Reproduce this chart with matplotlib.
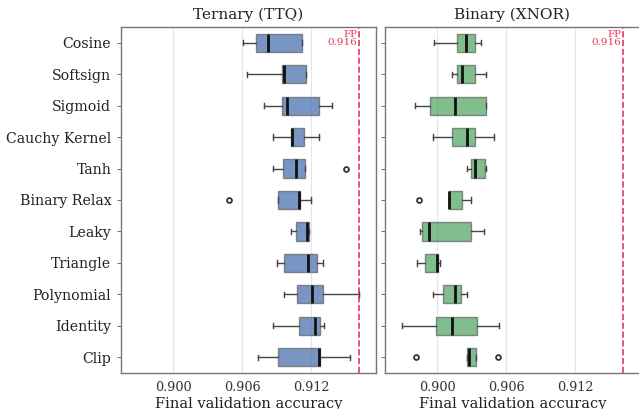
import matplotlib
matplotlib.use("Agg")
import matplotlib.pyplot as plt

plt.rcParams['font.family'] = ['DejaVu Serif']

categories = ["Cosine", "Softsign", "Sigmoid", "Cauchy Kernel", "Tanh", "Binary Relax",
              "Leaky", "Triangle", "Polynomial", "Identity", "Clip"]
fp_acc = 0.9162

# Ternary (TTQ) box stats
ttq_whislo = [0.90609, 0.90646, 0.90791, 0.90872, 0.90867, 0.9091, 0.91023, 0.90904, 0.90968, 0.90867, 0.90736]
ttq_q1 = [0.90724, 0.90945, 0.90945, 0.91026, 0.90954, 0.9091, 0.91067, 0.90968, 0.91081, 0.91096, 0.9091]
ttq_med = [0.90829, 0.90968, 0.90994, 0.91038, 0.91067, 0.91093, 0.91168, 0.91177, 0.91209, 0.91235, 0.9127]
ttq_q3 = [0.91122, 0.91159, 0.91272, 0.91142, 0.9115, 0.91104, 0.91183, 0.91252, 0.91304, 0.91278, 0.91278]
ttq_whishi = [0.91122, 0.91159, 0.91385, 0.91272, 0.9115, 0.912, 0.91183, 0.91304, 0.91617, 0.91313, 0.91536]
ttq_fliers = [[], [], [], [], [0.91504], [0.90484], [], [], [], [], []]

# Binary (XNOR) box stats
xnor_whislo = [0.89977, 0.9013, 0.89809, 0.89963, 0.90258, 0.90101, 0.89855, 0.89826, 0.89968, 0.89696, 0.90258]
xnor_q1 = [0.90177, 0.90177, 0.89937, 0.9013, 0.90299, 0.90101, 0.89867, 0.89896, 0.9005, 0.89988, 0.90258]
xnor_med = [0.90255, 0.90214, 0.90159, 0.90264, 0.90328, 0.90101, 0.89933, 0.900, 0.90159, 0.90128, 0.90275]
xnor_q3 = [0.90333, 0.90333, 0.90426, 0.90333, 0.9042, 0.9022, 0.90293, 0.90012, 0.90206, 0.90348, 0.90342]
xnor_whishi = [0.90386, 0.90426, 0.90426, 0.90499, 0.90429, 0.90299, 0.90412, 0.90026, 0.90258, 0.90542, 0.90342]
xnor_fliers = [[], [], [], [], [], [0.89843], [], [], [], [], [0.89817, 0.9053]]

ticks = [0.900, 0.906, 0.912]


def make_stats(whislo, q1, med, q3, whishi, fliers):
    return [dict(whislo=a, q1=b, med=c, q3=d, whishi=e, fliers=f)
            for a, b, c, d, e, f in zip(whislo, q1, med, q3, whishi, fliers)]


def draw_panel(ax, stats, color, title, show_labels):
    pos = list(range(len(categories)))
    ax.bxp(stats, positions=pos, vert=False, widths=0.58, capwidths=0.17,
           patch_artist=True,
           boxprops=dict(facecolor=color, edgecolor='#666666', linewidth=1.0, alpha=0.75),
           medianprops=dict(color='#111111', linewidth=2.0),
           whiskerprops=dict(color='#444444', linewidth=1.0),
           capprops=dict(color='#444444', linewidth=1.0),
           flierprops=dict(marker='o', markersize=3.5, markerfacecolor='none',
                           markeredgecolor='#333333', markeredgewidth=1.3))
    ax.axvline(fp_acc, color='#dc143c', linestyle='--', linewidth=1.2, alpha=0.85)
    ax.text(fp_acc - 0.0002, -0.42, "FP\n0.916", color='#dc143c', alpha=0.85,
            fontsize=7.5, ha='right', va='top', linespacing=0.95)
    ax.set_xlim(0.89548, 0.91765)
    ax.set_ylim(10.5, -0.5)
    ax.set_xticks(ticks)
    ax.set_xticklabels(["%.3f" % t for t in ticks], fontsize=9.2, color='#333333')
    ax.tick_params(axis='x', length=0, pad=6)
    ax.set_yticks(pos)
    if show_labels:
        ax.set_yticklabels(categories, fontsize=10.2, color='#222222')
    else:
        ax.set_yticklabels([])
    ax.tick_params(axis='y', length=3, color='#777777', pad=4)
    ax.grid(axis='x', color='#e6e6e6', linewidth=0.8)
    ax.set_axisbelow(True)
    for s in ax.spines.values():
        s.set_color('#777777')
        s.set_linewidth(1.0)
    ax.set_title(title, fontsize=11, color='#222222', pad=6)
    ax.set_xlabel("Final validation accuracy", fontsize=10.5, color='#222222', labelpad=2)


fig = plt.figure(figsize=(6.39, 4.09), dpi=100)
ax1 = fig.add_axes([121 / 639, 1 - 373 / 409, 255 / 639, 346 / 409])
ax2 = fig.add_axes([385 / 639, 1 - 373 / 409, 255 / 639, 346 / 409])

draw_panel(ax1, make_stats(ttq_whislo, ttq_q1, ttq_med, ttq_q3, ttq_whishi, ttq_fliers),
           '#4c72b0', "Ternary (TTQ)", True)
draw_panel(ax2, make_stats(xnor_whislo, xnor_q1, xnor_med, xnor_q3, xnor_whishi, xnor_fliers),
           '#55a868', "Binary (XNOR)", False)

fig.savefig("out.png", dpi=100)
